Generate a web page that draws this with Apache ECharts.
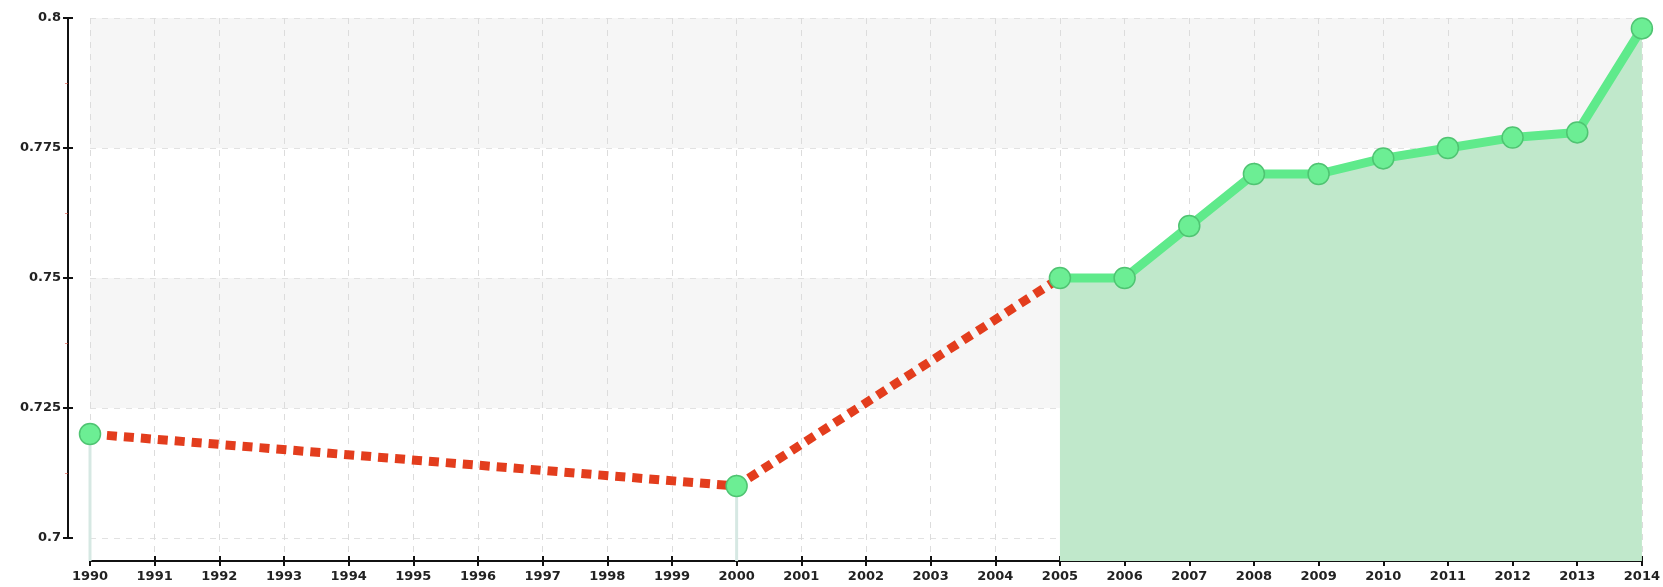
<!DOCTYPE html>
<html>
<head>
<meta charset="utf-8">
<script src="https://cdn.jsdelivr.net/npm/echarts@6/dist/echarts.min.js"></script>
<style>
html,body{margin:0;padding:0;background:#fff;}
#chart{width:1663px;height:587px;}
</style>
</head>
<body>
<div id="chart"></div>
<script>
const years = ['1990','1991','1992','1993','1994','1995','1996','1997','1998','1999','2000','2001','2002','2003','2004','2005','2006','2007','2008','2009','2010','2011','2012','2013','2014'];
const measured = [0.72,null,null,null,null,null,null,null,null,null,0.71,null,null,null,null,0.75,0.75,0.76,0.77,0.77,0.773,0.775,0.777,0.778,0.798];
const isolated = [0.72,'-','-','-','-','-','-','-','-','-',0.71,'-','-','-','-','-','-','-','-','-','-','-','-','-','-'];
const yTicks = {min:0.7, max:0.8, interval:0.025};

// dashed link across missing years: only endpoints of gaps
const gapIdx = [0,10,15];
const gapLink = measured.map((v,i)=> gapIdx.includes(i) ? v : null);

const FONT = 'DejaVu Sans';
const chart = echarts.init(document.getElementById('chart'));
const pxPerVal = 520/0.1;
const dataMin = yTicks.min - 23/pxPerVal;

chart.setOption({
  animation:false,
  grid:[
    {left:90,right:21,top:18,bottom:49},
    {left:90,right:21,top:18,bottom:26}
  ],
  xAxis:[
    {gridIndex:0,type:'category',data:years,boundaryGap:false,show:false},
    {gridIndex:1,type:'category',data:years,boundaryGap:false,
      axisLine:{lineStyle:{color:'#111',width:2}},
      axisTick:{alignWithLabel:true,length:5,lineStyle:{color:'#111',width:2}},
      axisLabel:{fontFamily:FONT,fontSize:13,fontWeight:'bold',color:'#222',margin:9},
      splitLine:{show:true,lineStyle:{color:'#dcdcdc',type:[6,6],width:1}}
    },
    {gridIndex:1,type:'category',data:years,boundaryGap:false,position:'bottom',
      axisLine:{show:false},
      axisTick:{inside:true,length:5,lineStyle:{color:'#111',width:2}},
      axisLabel:{show:false},splitLine:{show:false}
    }
  ],
  yAxis:[
    {gridIndex:0,type:'value',min:yTicks.min,max:yTicks.max,interval:yTicks.interval,offset:22,
      axisLine:{show:true,lineStyle:{color:'#111',width:2}},
      axisTick:{show:true,length:5,lineStyle:{color:'#111',width:2}},
      minorTick:{show:true,splitNumber:2,length:3,lineStyle:{color:'rgba(220,70,50,0.6)',width:1}},
      axisLabel:{fontFamily:FONT,fontSize:13,fontWeight:'bold',color:'#222',margin:7},
      splitLine:{show:true,lineStyle:{color:'#e2e2e2',type:[6,6]}},
      splitArea:{show:true,areaStyle:{color:['rgba(255,255,255,0)','#f6f6f6']}}
    },
    {gridIndex:0,type:'value',min:yTicks.min,max:yTicks.max,interval:yTicks.interval,offset:22,position:'left',
      axisLine:{show:false},
      axisTick:{show:true,inside:true,length:5,lineStyle:{color:'#111',width:2}},
      axisLabel:{show:false},splitLine:{show:false}
    },
    {gridIndex:1,type:'value',min:dataMin,max:yTicks.max,show:false,splitLine:{show:false}}
  ],
  series:[
    {type:'bar',xAxisIndex:1,yAxisIndex:2,data:isolated,barWidth:3,
      itemStyle:{color:'#d6e8e3'},z:1,silent:true},
    {type:'line',xAxisIndex:1,yAxisIndex:2,data:gapLink,connectNulls:true,
      showSymbol:false,symbol:'none',
      lineStyle:{color:'#e33d1d',width:9,type:[10,7],cap:'butt'},z:2},
    {type:'line',xAxisIndex:1,yAxisIndex:2,data:measured,connectNulls:false,
      symbol:'circle',symbolSize:21,showAllSymbol:true,
      lineStyle:{color:'#5fea8b',width:9},
      itemStyle:{color:'#6cee94',borderColor:'#4fc472',borderWidth:1.5},
      areaStyle:{color:'#c0e8cb',opacity:1},z:3}
  ]
});
</script>
</body>
</html>
